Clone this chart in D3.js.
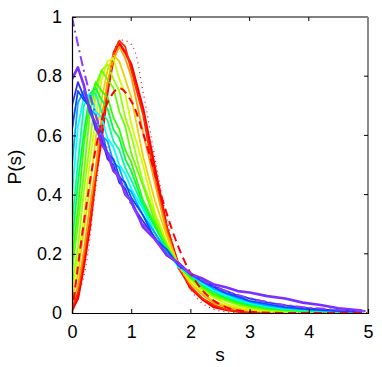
<!DOCTYPE html>
<html>
<head>
<meta charset="utf-8">
<script src="https://cdn.jsdelivr.net/npm/d3@7"></script>
<style>
  body { margin: 0; background: #fff; }
  text { font-family: "Liberation Sans", Arial, sans-serif; }
</style>
</head>
<body>
<div id="chart"></div>
<script>
// spacing grid of the measured histograms
var sGrid = [0,0.1,0.2,0.3,0.4,0.5,0.6,0.7,0.8,0.9,1.0,1.2,1.4,1.6,1.8,2.0,2.2,2.4,2.6,2.8,3.0,3.3,3.6,3.9,4.2,4.5,4.9];

// measured P(s), red -> purple
var p0  = [0.01,0.05,0.16,0.29,0.46,0.59,0.75,0.86,0.91,0.88,0.84,0.69,0.49,0.29,0.16,0.085,0.047,0.020,0.011,0.005,0.003,0.001,0,0,0,0,0];
var p1  = [0.02,0.07,0.19,0.31,0.47,0.63,0.76,0.88,0.92,0.90,0.82,0.67,0.45,0.29,0.15,0.09,0.05,0.027,0.012,0.006,0.003,0.002,0.001,0,0,0,0];
var p2  = [0.03,0.09,0.21,0.36,0.49,0.66,0.78,0.86,0.90,0.86,0.80,0.61,0.44,0.27,0.16,0.10,0.062,0.034,0.02,0.012,0.007,0.004,0.002,0.001,0.001,0,0];
var p3  = [0.05,0.13,0.28,0.42,0.59,0.72,0.82,0.87,0.85,0.79,0.73,0.53,0.38,0.26,0.16,0.10,0.066,0.04,0.024,0.016,0.009,0.005,0.003,0.002,0.001,0,0];
var p4  = [0.07,0.18,0.32,0.51,0.65,0.79,0.85,0.86,0.79,0.74,0.64,0.50,0.34,0.24,0.16,0.11,0.074,0.052,0.031,0.02,0.013,0.007,0.004,0.003,0.002,0.001,0];
var p5  = [0.10,0.22,0.41,0.57,0.74,0.82,0.84,0.79,0.75,0.66,0.60,0.44,0.33,0.22,0.16,0.117,0.08,0.055,0.041,0.027,0.018,0.01,0.006,0.004,0.003,0.002,0.001];
var p6  = [0.14,0.30,0.47,0.67,0.77,0.82,0.79,0.76,0.68,0.63,0.54,0.43,0.31,0.23,0.16,0.12,0.086,0.06,0.044,0.032,0.022,0.013,0.008,0.005,0.004,0.002,0.001];
var p7  = [0.18,0.35,0.57,0.71,0.78,0.75,0.73,0.66,0.62,0.55,0.51,0.38,0.30,0.21,0.16,0.12,0.091,0.064,0.049,0.035,0.025,0.015,0.01,0.007,0.005,0.003,0.002];
var p8  = [0.23,0.44,0.61,0.74,0.76,0.72,0.69,0.62,0.59,0.52,0.48,0.37,0.29,0.22,0.16,0.124,0.095,0.071,0.051,0.039,0.028,0.018,0.012,0.008,0.006,0.004,0.002];
var p9  = [0.30,0.51,0.70,0.74,0.74,0.68,0.65,0.58,0.55,0.49,0.45,0.36,0.27,0.21,0.16,0.126,0.096,0.075,0.055,0.043,0.031,0.02,0.014,0.01,0.007,0.004,0.002];
var p10 = [0.40,0.63,0.73,0.74,0.68,0.66,0.59,0.56,0.50,0.47,0.42,0.35,0.27,0.21,0.155,0.13,0.1,0.076,0.061,0.045,0.034,0.022,0.015,0.011,0.008,0.005,0.003];
var p11 = [0.50,0.71,0.75,0.69,0.67,0.60,0.58,0.51,0.49,0.43,0.41,0.33,0.27,0.205,0.165,0.128,0.106,0.081,0.065,0.05,0.038,0.025,0.017,0.012,0.009,0.006,0.003];
var p12 = [0.62,0.75,0.72,0.70,0.63,0.61,0.54,0.52,0.46,0.44,0.39,0.33,0.25,0.215,0.16,0.134,0.107,0.087,0.067,0.055,0.041,0.03,0.02,0.014,0.01,0.007,0.004];
var p13 = [0.70,0.78,0.73,0.69,0.62,0.59,0.52,0.50,0.44,0.42,0.37,0.31,0.255,0.195,0.17,0.133,0.112,0.089,0.075,0.059,0.049,0.036,0.026,0.018,0.012,0.008,0.005];
var p14 = [0.79,0.83,0.77,0.68,0.64,0.57,0.54,0.48,0.46,0.40,0.38,0.29,0.25,0.195,0.168,0.132,0.117,0.096,0.087,0.074,0.069,0.057,0.049,0.035,0.027,0.016,0.008];
var series = [p0,p1,p2,p3,p4,p5,p6,p7,p8,p9,p10,p11,p12,p13,p14];
var colors = ["#ff0000","#ff3000","#ffa000","#f0d000","#ccff00","#99ff00","#66ff00","#33ff00",
              "#00ff40","#00ffa0","#00ffff","#00aaff","#0050ff","#3030ff","#7a30ff"];

// reference curves (GOE, GUE, Poisson) tabulated every 0.2
var sRef = [0,0.2,0.4,0.6,0.8,1.0,1.2,1.4,1.6,1.8,2.0,2.2,2.4,2.6,2.8,3.0,3.2,3.4,3.6,3.8,4.0,4.2,4.4,4.6,4.8,5.0];
var goe = [0,0.305,0.554,0.710,0.760,0.716,0.608,0.472,0.336,0.222,0.136,0.077,0.041,0.020,0.009,0.004,0.0016,0.0006,0.0002,0,0,0,0,0,0,0];
var gue = [0,0.123,0.423,0.738,0.919,0.908,0.747,0.524,0.319,0.170,0.080,0.033,0.012,0.004,0.0012,0.0003,0,0,0,0,0,0,0,0,0,0];
var poisson = [1,0.819,0.670,0.549,0.449,0.368,0.301,0.247,0.202,0.165,0.135,0.111,0.091,0.074,0.061,0.050,0.041,0.033,0.027,0.022,0.018,0.015,0.012,0.010,0.008,0.007];

var xTicks = [0,1,2,3,4,5];
var yTicks = [0,0.2,0.4,0.6,0.8,1];

var svgWidth = 382, svgHeight = 367;
var margin = {top: 17, right: 14, bottom: 54, left: 72};
var width = svgWidth - margin.left - margin.right;   // 296
var height = svgHeight - margin.top - margin.bottom; // 296

var svg = d3.select("#chart").append("svg")
  .attr("width", svgWidth)
  .attr("height", svgHeight);

var chartGroup = svg.append("g")
  .attr("transform", `translate(${margin.left}, ${margin.top})`);

var x = d3.scaleLinear().domain([0, 5]).range([0, width]);
var y = d3.scaleLinear().domain([0, 1]).range([height, 0]);

chartGroup.append("clipPath").attr("id", "clip")
  .append("rect").attr("width", width).attr("height", height);

var plot = chartGroup.append("g").attr("clip-path", "url(#clip)");

var line = d3.line()
  .x((d, i) => x(sGrid[i]))
  .y(d => y(d));

series.forEach(function (vals, k) {
  plot.append("path")
    .datum(vals)
    .attr("d", line)
    .attr("fill", "none")
    .attr("stroke", colors[k])
    .attr("stroke-width", (k == 0 || k == 14) ? 2.6 : 1.8)
    .attr("stroke-linejoin", "round");
});

var refLine = d3.line()
  .x((d, i) => x(sRef[i]))
  .y(d => y(d))
  .curve(d3.curveCatmullRom);

plot.append("path").datum(goe).attr("d", refLine)
  .attr("fill", "none").attr("stroke", "#ff0000")
  .attr("stroke-width", 2).attr("stroke-dasharray", "8,5");

plot.append("path").datum(gue).attr("d", refLine)
  .attr("fill", "none").attr("stroke", "#ff0000")
  .attr("stroke-width", 1.2).attr("stroke-dasharray", "1,4");

plot.append("path").datum(poisson).attr("d", refLine)
  .attr("fill", "none").attr("stroke", "#8a3cff")
  .attr("stroke-width", 2).attr("stroke-dasharray", "10,4,2,4");

// box
chartGroup.append("line").attr("x1", 0).attr("x2", width).attr("y1", 0).attr("y2", 0)
  .attr("stroke", "#000").attr("stroke-width", 1);
chartGroup.append("line").attr("x1", width).attr("x2", width).attr("y1", 0).attr("y2", height)
  .attr("stroke", "#888").attr("stroke-width", 2);

// axes, ticks inward
var bottomAxis = d3.axisBottom(x).tickValues(xTicks).tickSize(-4).tickPadding(12).tickFormat(d3.format("d"));
var leftAxis = d3.axisLeft(y).tickValues(yTicks).tickSize(-4).tickPadding(10).tickFormat(d => d);

var xAxis = chartGroup.append("g")
  .attr("transform", `translate(0, ${height})`)
  .call(bottomAxis);
var yAxis = chartGroup.append("g").call(leftAxis);

[xAxis, yAxis].forEach(function (ax) {
  ax.select(".domain").attr("stroke", "#000").attr("stroke-width", 1.2);
  ax.selectAll("text").attr("font-size", 18).attr("fill", "#000")
    .attr("font-family", "Liberation Sans, Arial, sans-serif");
});

// top / right inward ticks
chartGroup.append("g").selectAll("line").data(xTicks.slice(1, -1)).enter().append("line")
  .attr("x1", d => x(d)).attr("x2", d => x(d)).attr("y1", 0).attr("y2", 4)
  .attr("stroke", "#000");
chartGroup.append("g").selectAll("line").data(yTicks.slice(1, -1)).enter().append("line")
  .attr("x1", width).attr("x2", width - 4).attr("y1", d => y(d)).attr("y2", d => y(d))
  .attr("stroke", "#000");

// axis labels
svg.append("text")
  .attr("x", margin.left + width / 2)
  .attr("y", 361)
  .attr("text-anchor", "middle")
  .attr("font-size", 19)
  .text("s");

svg.append("text")
  .attr("transform", "translate(21, 167) rotate(-90)")
  .attr("text-anchor", "middle")
  .attr("font-size", 19)
  .text("P(s)");
</script>
</body>
</html>
